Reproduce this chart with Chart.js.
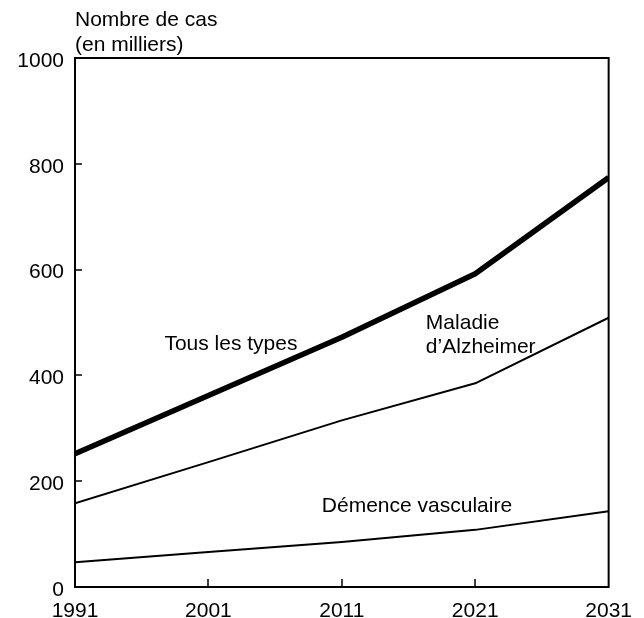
<!DOCTYPE html>
<html>
<head>
<meta charset="utf-8">
<script src="https://cdn.jsdelivr.net/npm/chart.js@4.4.1/dist/chart.umd.min.js"></script>
<style>
  html, body { margin: 0; padding: 0; background: #fff; }
  #wrap { width: 644px; height: 618px; }
</style>
</head>
<body>
<div id="wrap"><canvas id="chart" width="644" height="618"></canvas></div>
<script>
// data
const years = [1991, 2001, 2011, 2021, 2031];
const tousLesTypes = [252, 362, 472, 592, 774];
const alzheimer = [158, 236, 315, 385, 509];
const demenceVasc = [47, 66, 85, 108, 143];
const yTicks = [0, 200, 400, 600, 800, 1000];
const xTicks = [1991, 2001, 2011, 2021, 2031];

// in-plot text labels: [text, year, value]
const notes = [
    ['Tous les types', 1997.7, 459],
    ['Maladie', 2017.3, 499],
    ['d\u2019Alzheimer', 2017.3, 454],
    ['Démence vasculaire', 2009.5, 153]
];

const FONT = 'Liberation Sans, Arial, sans-serif';
const FSIZE = 21;

function pts(vals) {
    return years.map((y, i) => ({ x: y, y: vals[i] }));
}

// frame, inward ticks, axis title, in-plot notes
const decor = {
    id: 'decor',
    afterDatasetsDraw(chart) {
        const ctx = chart.ctx;
        const a = chart.chartArea;
        const xs = chart.scales.x, ys = chart.scales.y;
        ctx.save();
        ctx.strokeStyle = '#000';
        ctx.lineWidth = 2;
        ctx.strokeRect(a.left, a.top, a.right - a.left, a.bottom - a.top);

        // inward ticks
        ctx.beginPath();
        yTicks.slice(1, -1).forEach(v => {
            const py = Math.round(ys.getPixelForValue(v));
            ctx.moveTo(a.left, py);
            ctx.lineTo(a.left + 7, py);
        });
        xTicks.slice(1, -1).forEach(v => {
            const px = Math.round(xs.getPixelForValue(v));
            ctx.moveTo(px, a.bottom);
            ctx.lineTo(px, a.bottom - 8);
        });
        ctx.lineWidth = 1.5;
        ctx.stroke();

        ctx.fillStyle = '#000';
        ctx.font = FSIZE + 'px ' + FONT;
        ctx.textAlign = 'left';
        ctx.textBaseline = 'middle';
        ctx.fillText('Nombre de cas', a.left, 20);
        ctx.fillText('(en milliers)', a.left, 45);

        notes.forEach(n => {
            ctx.fillText(n[0], xs.getPixelForValue(n[1]), ys.getPixelForValue(n[2]));
        });
        ctx.restore();
    }
};

function lineSet(label, vals, w) {
    return {
        label: label,
        data: pts(vals),
        borderColor: '#000',
        borderWidth: w,
        pointRadius: 0,
        tension: 0,
        fill: false,
        borderJoinStyle: 'round'
    };
}

const chart = new Chart(document.getElementById('chart'), {
    type: 'line',
    data: {
        datasets: [
            lineSet('Tous les types', tousLesTypes, 5.5),
            lineSet('Maladie d\u2019Alzheimer', alzheimer, 2),
            lineSet('Démence vasculaire', demenceVasc, 2)
        ]
    },
    options: {
        responsive: false,
        animation: false,
        layout: { padding: { top: 58, right: 34, left: 0, bottom: 0 } },
        plugins: { legend: { display: false }, tooltip: { enabled: false } },
        scales: {
            x: {
                type: 'linear',
                min: 1991, max: 2031,
                grid: { display: false, drawTicks: false },
                border: { display: false },
                afterBuildTicks: s => { s.ticks = xTicks.map(v => ({ value: v })); },
                afterFit: s => { s.height = 618 - 587; },
                ticks: {
                    color: '#000',
                    font: { family: FONT, size: FSIZE },
                    padding: 12,
                    maxRotation: 0,
                    callback: v => String(v)
                }
            },
            y: {
                min: 0, max: 1000,
                grid: { display: false, drawTicks: false },
                border: { display: false },
                afterBuildTicks: s => { s.ticks = yTicks.map(v => ({ value: v })); },
                afterFit: s => { s.width = 75; },
                ticks: {
                    color: '#000',
                    font: { family: FONT, size: FSIZE },
                    padding: 11,
                    labelOffset: 3,
                    callback: v => String(v)
                }
            }
        }
    },
    plugins: [decor]
});
</script>
</body>
</html>
